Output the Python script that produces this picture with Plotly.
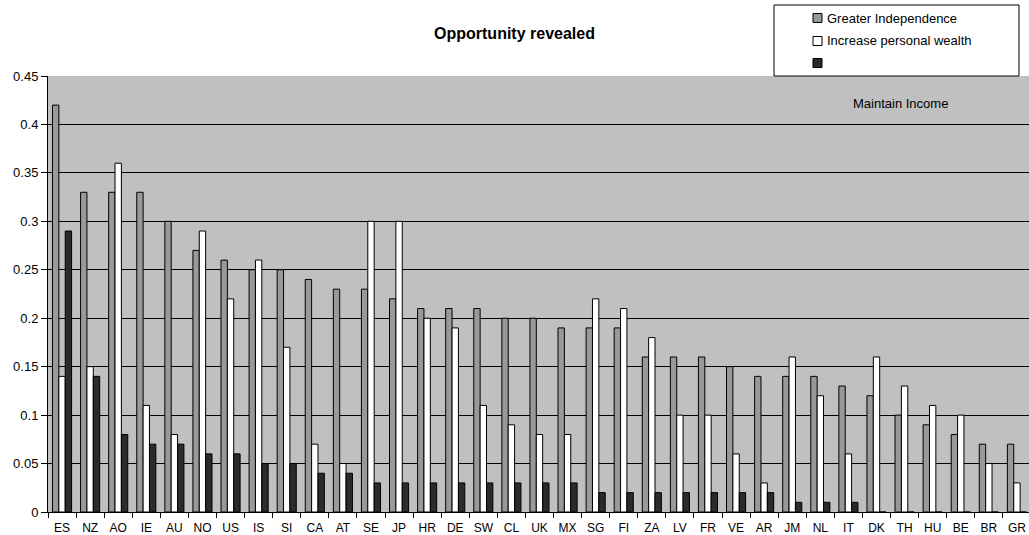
import plotly.graph_objects as go

countries = ["ES", "NZ", "AO", "IE", "AU", "NO", "US", "IS", "SI", "CA", "AT", "SE",
             "JP", "HR", "DE", "SW", "CL", "UK", "MX", "SG", "FI", "ZA", "LV", "FR",
             "VE", "AR", "JM", "NL", "IT", "DK", "TH", "HU", "BE", "BR", "GR"]

greater_independence = [0.42, 0.33, 0.33, 0.33, 0.30, 0.27, 0.26, 0.25, 0.25, 0.24, 0.23, 0.23,
                        0.22, 0.21, 0.21, 0.21, 0.20, 0.20, 0.19, 0.19, 0.19, 0.16, 0.16, 0.16,
                        0.15, 0.14, 0.14, 0.14, 0.13, 0.12, 0.10, 0.09, 0.08, 0.07, 0.07]

personal_wealth = [0.14, 0.15, 0.36, 0.11, 0.08, 0.29, 0.22, 0.26, 0.17, 0.07, 0.05, 0.30,
                   0.30, 0.20, 0.19, 0.11, 0.09, 0.08, 0.08, 0.22, 0.21, 0.18, 0.10, 0.10,
                   0.06, 0.03, 0.16, 0.12, 0.06, 0.16, 0.13, 0.11, 0.10, 0.05, 0.03]

maintain_income = [0.29, 0.14, 0.08, 0.07, 0.07, 0.06, 0.06, 0.05, 0.05, 0.04, 0.04, 0.03,
                   0.03, 0.03, 0.03, 0.03, 0.03, 0.03, 0.03, 0.02, 0.02, 0.02, 0.02, 0.02,
                   0.02, 0.02, 0.01, 0.01, 0.01, 0.0, 0.0, 0.0, 0.0, 0.0, 0.0]

y_ticks = [0, 0.05, 0.1, 0.15, 0.2, 0.25, 0.3, 0.35, 0.4, 0.45]
y_labels = ["0", "0.05", "0.1", "0.15", "0.2", "0.25", "0.3", "0.35", "0.4", "0.45"]

series_names = ["Greater Independence", "Increase personal wealth", ""]
series_colors = ["#999999", "#ffffff", "#2b2b2b"]
series_values = [greater_independence, personal_wealth, maintain_income]

FONT = "Liberation Sans, Arial, sans-serif"
W, H = 1029, 535
L, R, T, B = 48, 0, 76, 23
PW, PH = W - L - R, H - T - B


def px_x(px):
    """Pixel column -> plot-area paper fraction."""
    return (px - L) / PW


def px_y(py):
    """Pixel row -> plot-area paper fraction."""
    return (H - B - py) / PH


fig = go.Figure()
for name, color, vals in zip(series_names, series_colors, series_values):
    fig.add_trace(go.Bar(x=countries, y=vals, name=name, showlegend=False,
                         marker=dict(color=color, line=dict(color="#000000", width=1))))

fig.update_layout(
    width=W, height=H,
    margin=dict(l=L, r=R, t=T, b=B, autoexpand=False),
    paper_bgcolor="#ffffff",
    plot_bgcolor="#c0c0c0",
    barmode="group",
    bargap=0.32,
    bargroupgap=0,
    font=dict(family=FONT, size=13, color="#000000"),
    title=dict(text="<b>Opportunity revealed</b>", x=0.5, xanchor="center",
               y=1 - 33 / H, yanchor="middle", font=dict(size=16, family=FONT)),
    showlegend=False,
)

# legend frame and entries
fig.add_shape(type="rect", xref="paper", yref="paper",
              x0=px_x(774), x1=px_x(1019), y0=px_y(76), y1=px_y(5),
              line=dict(color="#000000", width=1), fillcolor="#ffffff")
for i, (name, color) in enumerate(zip(series_names, series_colors)):
    cy = [18, 41, 63][i]
    fig.add_shape(type="rect", xref="paper", yref="paper",
                  x0=px_x(813), x1=px_x(822), y0=px_y(cy + 4.5), y1=px_y(cy - 4.5),
                  line=dict(color="#000000", width=1), fillcolor=color)
    if name:
        fig.add_annotation(text=name, xref="paper", yref="paper",
                           x=px_x(825), y=px_y(cy), xanchor="left", yanchor="middle",
                           showarrow=False, font=dict(size=13, family=FONT))

fig.add_annotation(text="Maintain Income", xref="paper", yref="paper",
                   x=px_x(851), y=px_y(103), xanchor="left", yanchor="middle",
                   showarrow=False, font=dict(size=13, family=FONT, color="#000000"))

fig.update_xaxes(
    type="category",
    range=[-0.5, 34.43],
    tickson="boundaries",
    ticks="outside", ticklen=5, tickcolor="#000000",
    tickangle=0,
    automargin=False,
    ticklabelstandoff=5,
    showline=True, linecolor="#000000", linewidth=1,
    showgrid=False,
    tickfont=dict(size=12, family=FONT),
)
fig.update_yaxes(
    range=[0, 0.45],
    tickvals=y_ticks, ticktext=y_labels,
    ticks="outside", ticklen=6, tickcolor="#000000",
    automargin=False,
    showline=True, linecolor="#000000", linewidth=1,
    showgrid=True, gridcolor="#000000", gridwidth=1,
    zeroline=False,
    tickfont=dict(size=13, family=FONT),
)

fig.write_html("out.html")
